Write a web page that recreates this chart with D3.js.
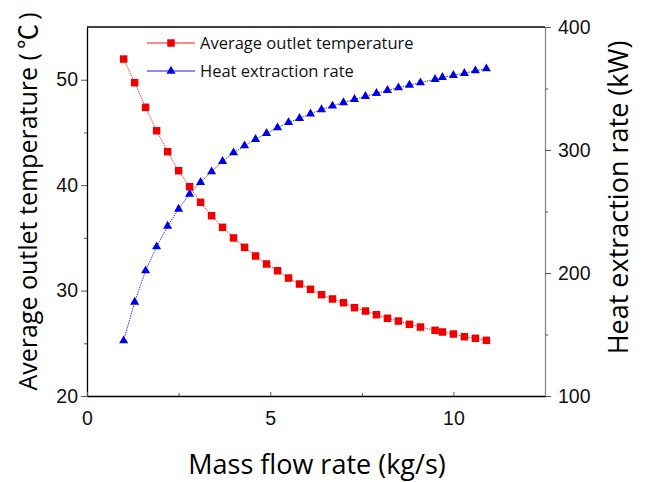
<!DOCTYPE html>
<html>
<head>
<meta charset="utf-8">
<script src="https://cdn.jsdelivr.net/npm/d3@7"></script>
<style>
  body { margin: 0; background: #fff; }
  svg { display: block; font-family: "Open Sans", "Noto Sans", sans-serif; }
</style>
</head>
<body>
<div id="chart"></div>
<script>
// Mass flow rate (kg/s)
const flowRate = [1.0, 1.3, 1.6, 1.9, 2.2, 2.5, 2.8, 3.1, 3.4, 3.7, 4.0, 4.3, 4.6, 4.9,
    5.2, 5.5, 5.8, 6.1, 6.4, 6.7, 7.0, 7.3, 7.6, 7.9, 8.2, 8.5, 8.8, 9.1, 9.5, 9.7,
    10.0, 10.3, 10.6, 10.9];

// Average outlet temperature (℃)
const outletTemp = [51.96, 49.72, 47.38, 45.16, 43.17, 41.37, 39.85, 38.37, 37.10, 36.00,
    34.99, 34.10, 33.28, 32.52, 31.88, 31.19, 30.62, 30.12, 29.61, 29.20, 28.85, 28.38,
    28.06, 27.71, 27.37, 27.11, 26.80, 26.54, 26.23, 26.07, 25.88, 25.62, 25.47, 25.28];

// Heat extraction rate (kW)
const heatRate = [145.0, 176.4, 201.9, 221.4, 238.2, 252.0, 264.2, 273.7, 282.4, 290.8,
    297.8, 303.5, 308.7, 313.6, 318.1, 322.4, 325.8, 329.4, 332.9, 335.8, 338.6, 341.2,
    343.7, 346.1, 348.5, 350.7, 352.8, 354.7, 357.5, 359.1, 360.7, 362.4, 364.5, 366.1];

const xTicks = [0, 5, 10];
const xMinorTicks = [2.5, 7.5];
const leftTicks = [20, 30, 40, 50];
const leftMinorTicks = [25, 35, 45];
const rightTicks = [100, 200, 300, 400];
const rightMinorTicks = [150, 250, 350];

const seriesNames = ['Average outlet temperature', 'Heat extraction rate'];

const width = 653, height = 482;
const margin = { top: 27, right: 108, bottom: 86, left: 87 };
const plotW = width - margin.left - margin.right;
const plotH = height - margin.top - margin.bottom;

const RED = '#f00000';
const BLUE = '#0000e0';

const svg = d3.select('#chart')
    .append('svg')
    .attr('width', width)
    .attr('height', height);

const g = svg.append('g')
    .attr('transform', `translate(${margin.left},${margin.top})`);

// Scales
const x = d3.scaleLinear().domain([0, 12.5]).range([0, plotW]);
const yL = d3.scaleLinear().domain([20, 55]).range([plotH, 0]);
const yR = d3.scaleLinear().domain([100, 400]).range([plotH, 0]);

// Frame: top line
g.append('line')
    .attr('x1', 0).attr('x2', plotW)
    .attr('y1', 0).attr('y2', 0)
    .style('stroke', '#000').style('stroke-width', 1.3);

// Left axis
g.append('g')
    .call(d3.axisLeft(yL).tickValues(leftTicks).tickSize(6).tickPadding(3).tickSizeOuter(0));
g.append('g')
    .call(d3.axisLeft(yL).tickValues(leftMinorTicks).tickSize(3).tickFormat('').tickSizeOuter(0))
    .call(a => a.select('.domain').remove());

// Right axis
const rightAxis = g.append('g')
    .attr('transform', `translate(${plotW},0)`)
    .call(d3.axisRight(yR).tickValues(rightTicks).tickSize(6).tickPadding(7).tickSizeOuter(0));
g.append('g')
    .attr('transform', `translate(${plotW},0)`)
    .call(d3.axisRight(yR).tickValues(rightMinorTicks).tickSize(3).tickFormat('').tickSizeOuter(0))
    .call(a => a.select('.domain').remove());

// Bottom axis (ticks point inward)
g.append('g')
    .attr('transform', `translate(0,${plotH})`)
    .call(d3.axisBottom(x).tickValues(xTicks).tickSize(-4).tickPadding(15).tickSizeOuter(0));
g.append('g')
    .attr('transform', `translate(0,${plotH})`)
    .call(d3.axisBottom(x).tickValues(xMinorTicks).tickSize(-3).tickFormat('').tickSizeOuter(0))
    .call(a => a.select('.domain').remove());

g.selectAll('.domain').style('stroke', '#000').style('stroke-width', 1.3);
g.selectAll('.tick line').style('stroke', '#555');
rightAxis.select('.domain').style('stroke', '#8a8a8a');
g.selectAll('.tick text')
    .style('font-size', '19.5px')
    .style('fill', '#111');

// Axis titles
svg.append('text')
    .attr('transform', `translate(${margin.left + plotW / 2 + 1},474)`)
    .attr('text-anchor', 'middle')
    .style('font-size', '27px')
    .text('Mass flow rate (kg/s)');

const leftTitle = svg.append('text')
    .attr('transform', `translate(37,${margin.top + plotH / 2 - 10}) rotate(-90)`)
    .attr('text-anchor', 'middle')
    .style('font-size', '25px');
leftTitle.append('tspan').text('Average outlet temperature (\u2009');
leftTitle.append('tspan')
    .style('font-family', '"Noto Sans CJK SC", "Noto Sans", sans-serif')
    .text('℃');
leftTitle.append('tspan').text('\u2009)');

svg.append('text')
    .attr('transform', `translate(628,${margin.top + plotH / 2 - 14}) rotate(-90)`)
    .attr('text-anchor', 'middle')
    .style('font-size', '27px')
    .text('Heat extraction rate (kW)');

// Lines
const lineL = d3.line().x((d, i) => x(flowRate[i])).y(d => yL(d));
const lineR = d3.line().x((d, i) => x(flowRate[i])).y(d => yR(d));

g.append('path')
    .datum(outletTemp)
    .attr('d', lineL)
    .style('fill', 'none')
    .style('stroke', RED)
    .style('stroke-width', 0.8)
    .style('stroke-dasharray', '1.5,1');

g.append('path')
    .datum(heatRate)
    .attr('d', lineR)
    .style('fill', 'none')
    .style('stroke', BLUE)
    .style('stroke-width', 0.8)
    .style('stroke-dasharray', '1.5,1');

// Markers
const squareSize = 7.5;
g.append('g')
    .selectAll('rect')
    .data(outletTemp)
    .join('rect')
    .attr('x', (d, i) => x(flowRate[i]) - squareSize / 2)
    .attr('y', d => yL(d) - squareSize / 2)
    .attr('width', squareSize)
    .attr('height', squareSize)
    .style('fill', RED);

const tri = d3.symbol().type(d3.symbolTriangle).size(36);
g.append('g')
    .selectAll('path')
    .data(heatRate)
    .join('path')
    .attr('d', tri)
    .attr('transform', (d, i) => `translate(${x(flowRate[i])},${yR(d)})`)
    .style('fill', BLUE);

// Legend
const legend = svg.append('g');
const legendRows = [
    { name: seriesNames[0], color: RED, y: 43, marker: 'square' },
    { name: seriesNames[1], color: BLUE, y: 71, marker: 'triangle' }
];
legendRows.forEach(r => {
    legend.append('line')
        .attr('x1', 147).attr('x2', 195)
        .attr('y1', r.y).attr('y2', r.y)
        .style('stroke', r.color)
        .style('stroke-width', 0.9);
    if (r.marker === 'square') {
        legend.append('rect')
            .attr('x', 171 - squareSize / 2)
            .attr('y', r.y - squareSize / 2)
            .attr('width', squareSize)
            .attr('height', squareSize)
            .style('fill', r.color);
    } else {
        legend.append('path')
            .attr('d', tri)
            .attr('transform', `translate(171,${r.y})`)
            .style('fill', r.color);
    }
    legend.append('text')
        .attr('x', 200)
        .attr('y', r.y + 6)
        .style('font-size', '16.5px')
        .style('fill', '#111')
        .text(r.name);
});
</script>
</body>
</html>
